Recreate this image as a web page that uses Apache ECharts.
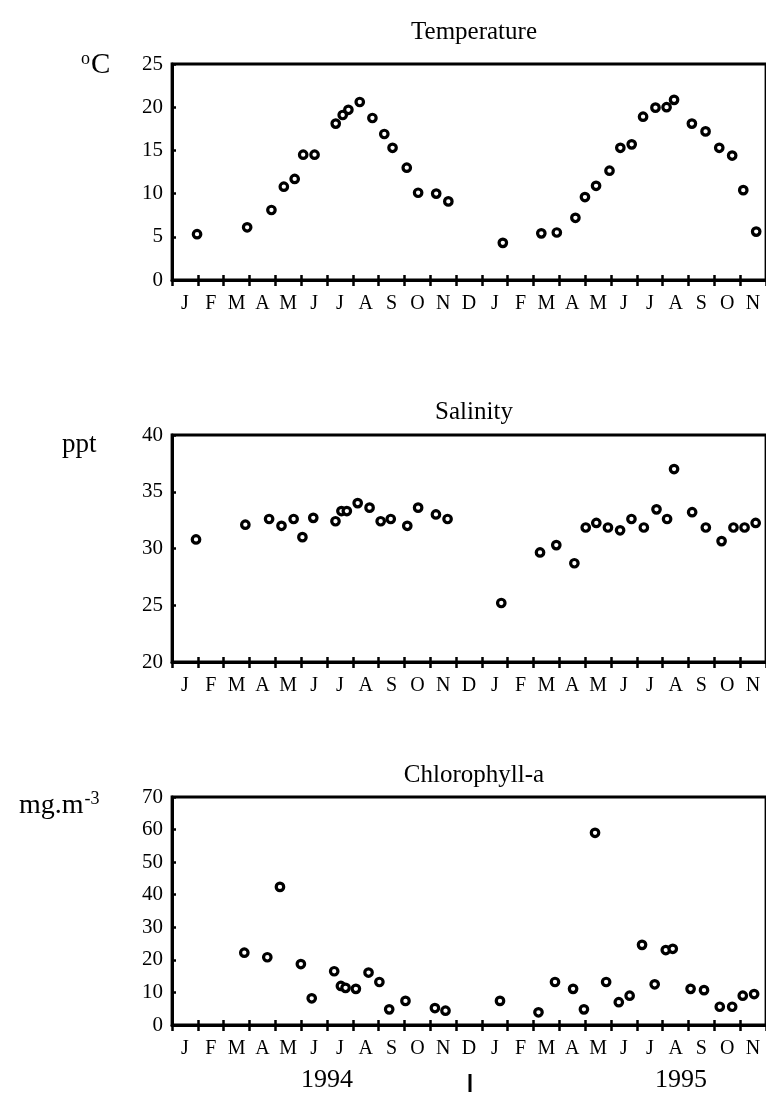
<!DOCTYPE html>
<html><head><meta charset="utf-8">
<script src="https://cdn.jsdelivr.net/npm/echarts@6/dist/echarts.min.js"></script>
<style>html,body{margin:0;padding:0;background:#fff}#c{width:766px;height:1094px}</style>
</head><body><div id="c"></div>
<script>
// Month categories (Jan 1994 .. Nov 1995)
const months = ['J','F','M','A','M','J','J','A','S','O','N','D','J','F','M','A','M','J','J','A','S','O','N'];
const years = ['1994','1995'];

// Temperature (°C): sample time in months since 1 Jan 1994, value
const tempMonth = [0.97,2.91,3.85,4.33,4.75,5.08,5.52,6.34,6.61,6.83,7.27,7.76,8.22,8.54,9.09,9.53,10.23,10.70,
  12.81,14.30,14.90,15.62,15.99,16.42,16.94,17.36,17.80,18.24,18.72,19.15,19.44,20.13,20.66,21.19,21.69,22.12,22.62];
const tempValue = [5.3,6.1,8.1,10.8,11.7,14.5,14.5,18.1,19.1,19.7,20.6,18.75,16.9,15.3,13.0,10.1,10.0,9.1,
  4.3,5.4,5.5,7.2,9.6,10.9,12.65,15.3,15.7,18.9,19.95,20.0,20.85,18.1,17.2,15.3,14.4,10.4,5.6];

// Salinity (ppt)
const salMonth = [0.93,2.84,3.76,4.24,4.71,5.05,5.47,6.33,6.56,6.77,7.19,7.65,8.08,8.47,9.11,9.53,10.22,10.67,
  12.75,14.25,14.88,15.58,16.02,16.43,16.88,17.35,17.79,18.27,18.76,19.17,19.44,20.14,20.67,21.28,21.74,22.17,22.60];
const salValue = [30.8,32.1,32.6,32.0,32.6,31.0,32.7,32.4,33.3,33.3,34.0,33.6,32.4,32.6,32.0,33.6,33.0,32.6,
  25.2,29.65,30.3,28.7,31.85,32.25,31.85,31.6,32.6,31.85,33.45,32.6,37.0,33.2,31.85,30.65,31.85,31.85,32.25];

// Chlorophyll-a (mg.m-3)
const chlMonth = [2.80,3.69,4.18,4.99,5.41,6.28,6.54,6.72,7.12,7.61,8.03,8.41,9.04,10.18,10.59,
  12.70,14.19,14.83,15.53,15.95,16.38,16.81,17.30,17.72,18.20,18.69,19.12,19.39,20.08,20.60,21.21,21.69,22.10,22.54];
const chlValue = [22.2,20.8,42.4,18.7,8.2,16.5,12.0,11.4,11.1,16.1,13.2,4.8,7.4,5.2,4.4,
  7.4,3.9,13.2,11.1,4.8,59.0,13.2,7.0,9.0,24.6,12.5,23.0,23.4,11.1,10.7,5.6,5.6,9.0,9.5];

const FONT = 'Liberation Serif';
const gridsDef = [
  {top: 64, height: 216, min: 0, max: 25, interval: 5, title: 'Temperature', titleTop: 15},
  {top: 435, height: 227, min: 20, max: 40, interval: 5, title: 'Salinity', titleTop: 395},
  {top: 797, height: 228, min: 0, max: 70, interval: 10, title: 'Chlorophyll-a', titleTop: 758}
];
const seriesData = [
  tempMonth.map((m,i)=>[m,tempValue[i]]),
  salMonth.map((m,i)=>[m,salValue[i]]),
  chlMonth.map((m,i)=>[m,chlValue[i]])
];

const grid=[], xAxis=[], yAxis=[], series=[], title=[];
gridsDef.forEach((g,gi)=>{
  grid.push({left:172, right:0, top:g.top, height:g.height, show:true, borderColor:'#000', borderWidth:2.8, containLabel:false});
  xAxis.push({type:'value', gridIndex:gi, min:0, max:23, interval:1,
    axisLine:{show:true, onZero:false, lineStyle:{color:'#000', width:3}},
    axisTick:{show:true, inside:false, length:6, lineStyle:{color:'#000', width:2.5}},
    axisLabel:{show:false}, splitLine:{show:false}});
  xAxis.push({type:'value', gridIndex:gi, min:0, max:23, interval:1, position:'bottom',
    axisLine:{show:false, onZero:false},
    axisTick:{show:true, inside:true, length:5, lineStyle:{color:'#000', width:2.5}},
    axisLabel:{show:false}, splitLine:{show:false}});
  xAxis.push({type:'category', gridIndex:gi, data:months, boundaryGap:true, position:'bottom',
    axisLine:{show:false}, axisTick:{show:false},
    axisLabel:{show:true, interval:0, color:'#000', fontFamily:FONT, fontSize:20, margin:14}});
  yAxis.push({type:'value', gridIndex:gi, min:g.min, max:g.max, interval:g.interval,
    axisLine:{show:true, onZero:false, lineStyle:{color:'#000', width:3}},
    axisTick:{show:true, inside:true, length:4, lineStyle:{color:'#000', width:2.5}},
    axisLabel:{color:'#000', fontFamily:FONT, fontSize:21, margin:9},
    splitLine:{show:false}});
  series.push({type:'scatter', xAxisIndex:gi*3, yAxisIndex:gi, data:seriesData[gi],
    symbol:'circle', symbolSize:7.5,
    itemStyle:{color:'#fff', borderColor:'#000', borderWidth:3.2, opacity:1}});
  title.push({text:g.title, left:469, top:g.titleTop, textAlign:'center',
    textStyle:{fontFamily:FONT, fontWeight:'normal', fontSize:25, color:'#000'}});
});
// unit labels
title.push({text:'{s|o}{n|C}', left:76, top:45,
  textStyle:{fontWeight:'normal', rich:{s:{fontFamily:FONT, fontWeight:'normal', fontSize:18, color:'#000', padding:[0,1,12,0]},
                   n:{fontFamily:FONT, fontWeight:'normal', fontSize:29, color:'#000'}}}});
title.push({text:'ppt', left:57, top:426,
  textStyle:{fontFamily:FONT, fontWeight:'normal', fontSize:27, color:'#000'}});
title.push({text:'{n|mg.m}{s|-3}', left:14, top:785,
  textStyle:{fontWeight:'normal', rich:{n:{fontFamily:FONT, fontWeight:'normal', fontSize:28, color:'#000'},
                   s:{fontFamily:FONT, fontWeight:'normal', fontSize:18, color:'#000', padding:[0,0,14,1]}}}});

const chart = echarts.init(document.getElementById('c'), null, {renderer:'canvas'});
chart.setOption({
  animation:false, backgroundColor:'#fff',
  title, grid, xAxis, yAxis, series,
  graphic:[
    {type:'text', left:301, top:1067, style:{text:years[0], fontFamily:FONT, fontSize:26, fill:'#000'}},
    {type:'line', shape:{x1:470, y1:1074, x2:470, y2:1092}, style:{stroke:'#000', lineWidth:3}},
    {type:'text', left:655, top:1067, style:{text:years[1], fontFamily:FONT, fontSize:26, fill:'#000'}}
  ]
});
</script></body></html>
